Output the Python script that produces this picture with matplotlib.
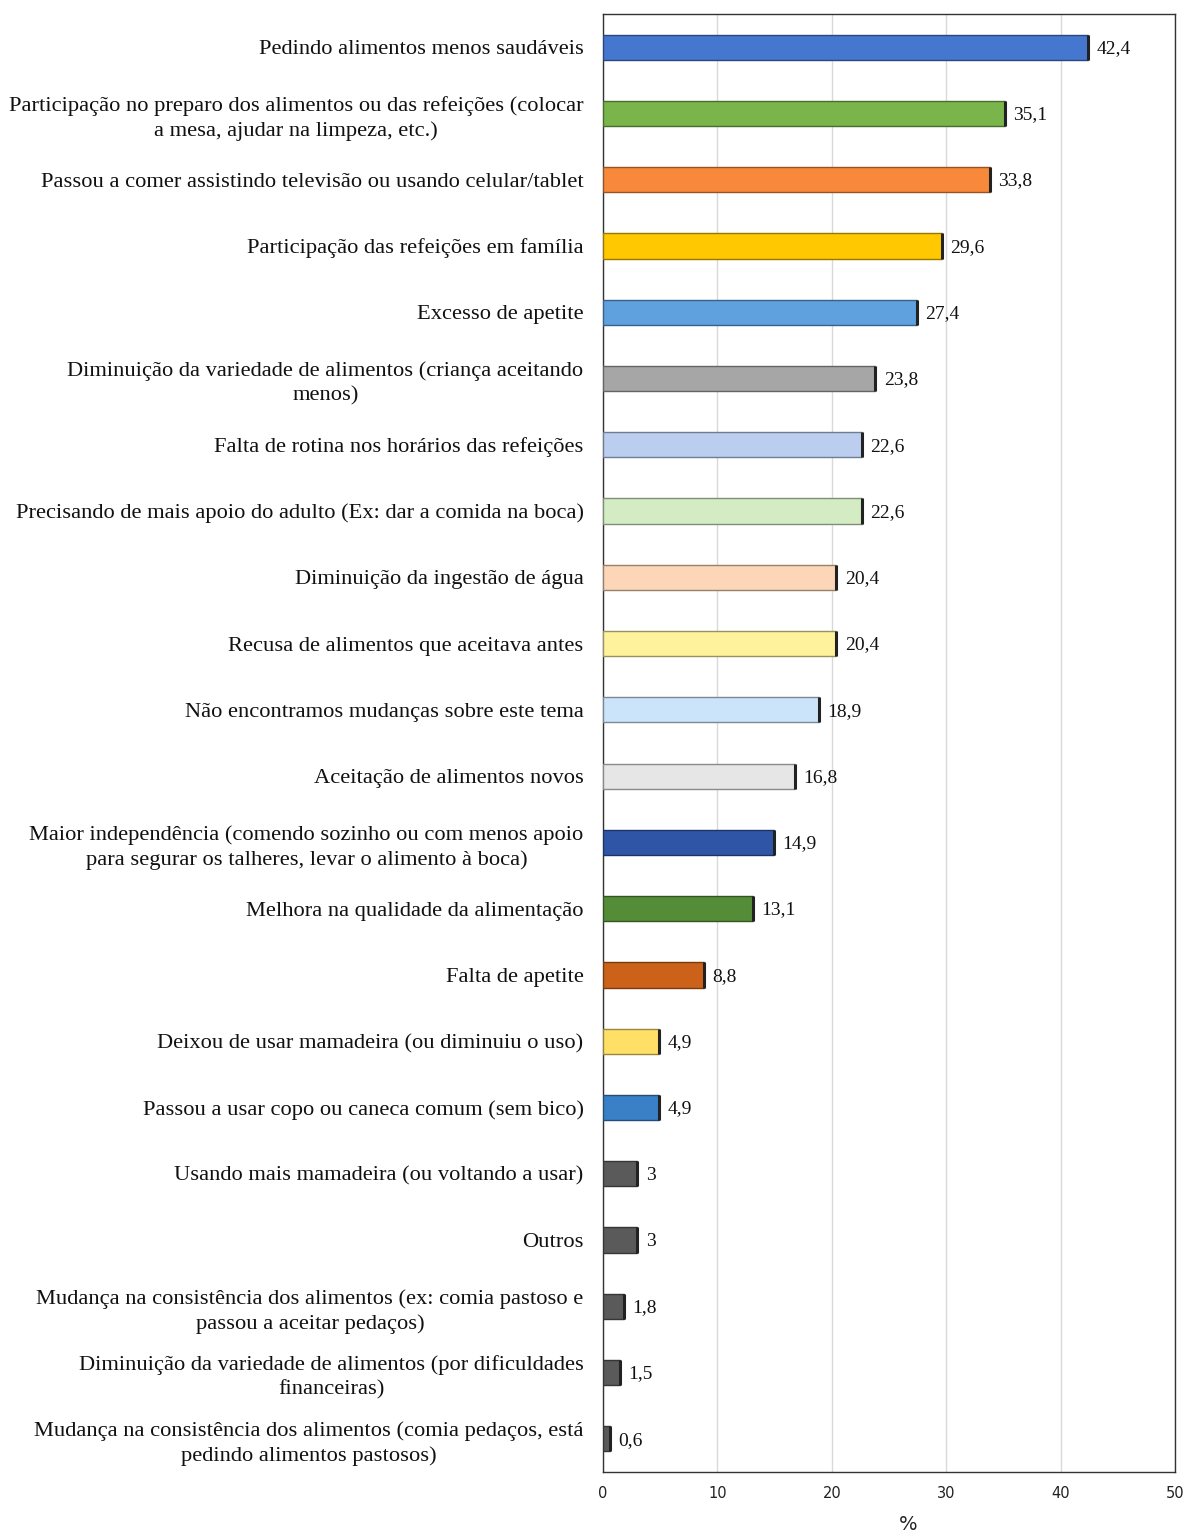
import matplotlib
matplotlib.use("Agg")
import matplotlib.pyplot as plt
import matplotlib.colors as mcolors
import numpy as np

categories = [
    "Pedindo alimentos menos saudáveis",
    "Participação no preparo dos alimentos ou das refeições (colocar\na mesa, ajudar na limpeza, etc.)",
    "Passou a comer assistindo televisão ou usando celular/tablet",
    "Participação das refeições em família",
    "Excesso de apetite",
    "Diminuição da variedade de alimentos (criança aceitando\nmenos)",
    "Falta de rotina nos horários das refeições",
    "Precisando de mais apoio do adulto (Ex: dar a comida na boca)",
    "Diminuição da ingestão de água",
    "Recusa de alimentos que aceitava antes",
    "Não encontramos mudanças sobre este tema",
    "Aceitação de alimentos novos",
    "Maior independência (comendo sozinho ou com menos apoio\npara segurar os talheres, levar o alimento à boca)",
    "Melhora na qualidade da alimentação",
    "Falta de apetite",
    "Deixou de usar mamadeira (ou diminuiu o uso)",
    "Passou a usar copo ou caneca comum (sem bico)",
    "Usando mais mamadeira (ou voltando a usar)",
    "Outros",
    "Mudança na consistência dos alimentos (ex: comia pastoso e\npassou a aceitar pedaços)",
    "Diminuição da variedade de alimentos (por dificuldades\nfinanceiras)",
    "Mudança na consistência dos alimentos (comia pedaços, está\npedindo alimentos pastosos)",
]
values = [42.4, 35.1, 33.8, 29.6, 27.4, 23.8, 22.6, 22.6, 20.4, 20.4, 18.9,
          16.8, 14.9, 13.1, 8.8, 4.9, 4.9, 3, 3, 1.8, 1.5, 0.6]
value_labels = ["42,4", "35,1", "33,8", "29,6", "27,4", "23,8", "22,6", "22,6",
                "20,4", "20,4", "18,9", "16,8", "14,9", "13,1", "8,8", "4,9",
                "4,9", "3", "3", "1,8", "1,5", "0,6"]
colors = ["#4677CF", "#79B54A", "#F8893A", "#FFC800", "#5FA0DF", "#A6A6A6",
          "#BBCEF0", "#D3ECC3", "#FCD6B6", "#FFF29C", "#CCE4F9", "#E6E6E6",
          "#2F56A6", "#548C38", "#CC6119", "#FFE066", "#3A80C6",
          "#5A5A5A", "#5A5A5A", "#5A5A5A", "#5A5A5A", "#5A5A5A"]
x_ticks = [0, 10, 20, 30, 40, 50]

fig = plt.figure(figsize=(11.85, 15.38), dpi=100)
ax = fig.add_axes([0.5089, 0.0429, 0.9916 - 0.5089, 0.9909 - 0.0429])

y = np.arange(len(categories))
h = 0.38
edge = [tuple(np.clip(np.array(mcolors.to_rgb(c)) * 0.6, 0, 1)) for c in colors]
ax.barh(y, values, height=h, color=colors, edgecolor=edge, linewidth=1.0, zorder=3)
ax.vlines(values, y - h / 2, y + h / 2, colors="#222222", linewidth=2.2, zorder=4)

for yi, v, lab in zip(y, values, value_labels):
    ax.annotate(lab, (v, yi), xytext=(6, -1), textcoords="offset points",
                va="center", ha="left", fontsize=14, family="Liberation Serif",
                color="#111111")

ax.set_ylim(len(categories) - 0.5, -0.5)
ax.set_xlim(0, 50)
ax.set_yticks(y)
ax.set_yticklabels(categories, fontsize=16.2, family="Liberation Serif",
                   multialignment="center", linespacing=1.35, color="#111111")
ax.tick_params(axis="y", length=0, pad=14)
ax.set_xticks(x_ticks)
ax.set_xticklabels([str(t) for t in x_ticks], fontsize=10.5, family="DejaVu Sans",
                   color="#222222")
ax.tick_params(axis="x", length=0, pad=10)
ax.grid(axis="x", color="#D9D9D9", linewidth=1.0, zorder=0)
ax.set_axisbelow(True)
for s in ax.spines.values():
    s.set_color("#333333")
    s.set_linewidth(1.0)
ax.set_xlabel("%", fontsize=14, family="DejaVu Sans", color="#222222")
ax.xaxis.set_label_coords(0.533, -0.0295)

fig.savefig("out.png", dpi=100)
